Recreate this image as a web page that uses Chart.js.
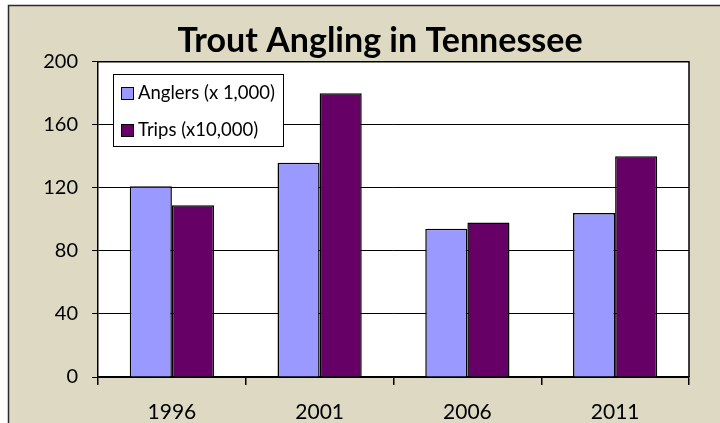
<!DOCTYPE html>
<html>
<head>
<meta charset="utf-8">
<script src="https://cdn.jsdelivr.net/npm/chart.js@4/dist/chart.umd.min.js"></script>
<style>
  html, body { margin: 0; padding: 0; background: #fff; }
  #wrap { width: 720px; height: 423px; }
</style>
</head>
<body>
<div id="wrap"><canvas id="chart" width="720" height="423"></canvas></div>
<script>
const years = ['1996', '2001', '2006', '2011'];
const anglers = [121, 136, 94, 104];
const trips = [109, 180, 98, 140];
const seriesNames = ['Anglers (x 1,000)', 'Trips (x10,000)'];
const seriesColors = ['#9999FF', '#660066'];
const chartTitle = 'Trout Angling in Tennessee';

const FONT = 'Lato, "DejaVu Sans", sans-serif';

// beige frame + white plot area behind everything
const frame = {
    id: 'frame',
    afterLayout(chart) {
        // title sits a bit right of the canvas centre in the original
        if (chart.titleBlock) {
            chart.titleBlock.left = 40;
            chart.titleBlock.right = chart.width;
        }
    },
    beforeDraw(chart) {
        const ctx = chart.ctx;
        const a = chart.chartArea;
        ctx.save();
        ctx.fillStyle = '#ffffff';
        ctx.fillRect(0, 0, chart.width, chart.height);
        ctx.fillStyle = '#DDD9C3';
        ctx.fillRect(9, 5, chart.width - 9, chart.height - 5);
        ctx.strokeStyle = '#2b2b2b';
        ctx.lineWidth = 1.5;
        ctx.beginPath();
        ctx.moveTo(8.5, chart.height);
        ctx.lineTo(8.5, 5.5);
        ctx.lineTo(chart.width, 5.5);
        ctx.stroke();
        ctx.fillStyle = '#ffffff';
        ctx.fillRect(a.left, a.top, a.right - a.left, a.bottom - a.top);
        ctx.restore();
    },
    afterDatasetsDraw(chart) {
        const ctx = chart.ctx;
        const a = chart.chartArea;
        ctx.save();
        ctx.strokeStyle = '#000';
        ctx.lineWidth = 1.5;
        ctx.beginPath();
        ctx.moveTo(a.left, a.top);
        ctx.lineTo(a.right, a.top);
        ctx.lineTo(a.right, a.bottom);
        ctx.stroke();
        ctx.restore();
    }
};

// legend drawn inside the plot, like the original
const boxLegend = {
    id: 'boxLegend',
    afterDraw(chart) {
        const ctx = chart.ctx;
        const a = chart.chartArea;
        const x = Math.round(a.left) + 15, y = Math.round(a.top) + 12, w = 170, h = 72;
        ctx.save();
        ctx.fillStyle = '#fff';
        ctx.fillRect(x, y, w, h);
        ctx.strokeStyle = '#000';
        ctx.lineWidth = 1;
        ctx.strokeRect(x + 0.5, y + 0.5, w, h);
        chart.data.datasets.forEach((ds, i) => {
            const cy = y + 19 + i * 37;
            ctx.fillStyle = ds.backgroundColor;
            ctx.fillRect(x + 8, cy - 6, 12, 12);
            ctx.strokeRect(x + 8.5, cy - 5.5, 12, 12);
            ctx.fillStyle = '#000';
            ctx.font = '18.5px ' + FONT;
            ctx.textBaseline = 'middle';
            ctx.textAlign = 'left';
            ctx.fillText(ds.label, x + 25, cy);
        });
        ctx.restore();
    }
};

const ctx = document.getElementById('chart').getContext('2d');
new Chart(ctx, {
    type: 'bar',
    data: {
        labels: years,
        datasets: [
            { label: seriesNames[0], data: anglers, backgroundColor: seriesColors[0] },
            { label: seriesNames[1], data: trips, backgroundColor: seriesColors[1] }
        ]
    },
    options: {
        responsive: false,
        animation: false,
        layout: { padding: { left: 0, right: 31, top: 0, bottom: 0 } },
        datasets: {
            bar: {
                categoryPercentage: 0.57,
                barPercentage: 1,
                borderColor: '#000',
                borderWidth: 1.5
            }
        },
        scales: {
            x: {
                grid: { display: true, offset: true, drawOnChartArea: false, drawTicks: true, tickLength: 8, color: '#000', lineWidth: 1.5 },
                border: { display: true, color: '#000', width: 1.5 },
                ticks: { color: '#000', font: { family: FONT, size: 21 }, padding: 15 },
                afterFit(scale) { scale.height = 46; }
            },
            y: {
                min: 0,
                max: 200,
                ticks: { stepSize: 40, color: '#000', font: { family: FONT, size: 20 }, padding: 14 },
                grid: { color: '#000', lineWidth: 1, tickLength: 6 },
                border: { display: true, color: '#000', width: 1.5 },
                afterFit(scale) { scale.width = 98; }
            }
        },
        plugins: {
            legend: { display: false },
            tooltip: { enabled: false },
            title: {
                display: true,
                text: chartTitle,
                color: '#000',
                font: { family: FONT, size: 34, weight: 'bold', lineHeight: 1.2 },
                padding: { top: 21, bottom: 0 }
            }
        }
    },
    plugins: [frame, boxLegend]
});
</script>
</body>
</html>
